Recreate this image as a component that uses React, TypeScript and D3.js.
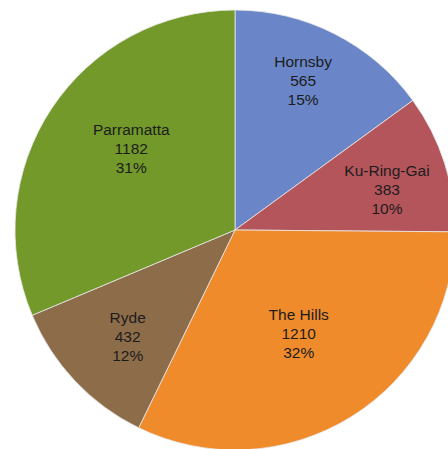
import React from "react";
import * as d3 from "d3";

const categories = ["Hornsby", "Ku-Ring-Gai", "The Hills", "Ryde", "Parramatta"];
const values = [565, 383, 1210, 432, 1182];
const percentLabels = ["15%", "10%", "32%", "12%", "31%"];
const colors = ["#6a86c8", "#b4555b", "#f08b2c", "#8d6c4a", "#72992a"];

// layout
const W = 448;
const H = 449;
const CX = 235;
const CY = 230;
const R = 220;
const labelRadius = [0.75, 0.715, 0.55, 0.685, 0.6];
const angleShift = [-0.045, 0.05, 0.0, -0.02, 0.08];

export default function App() {
  const data = categories.map((c, i) => ({ name: c, value: values[i], pct: percentLabels[i], i }));
  const pie = d3
    .pie<any>()
    .sort(null)
    .value((d: any) => d.value)
    .startAngle(0)
    .endAngle(2 * Math.PI);
  const arcs = pie(data);
  const arc = d3.arc<any>().innerRadius(0).outerRadius(R);
  const lineH = 19;
  return (
    <svg
      width={W}
      height={H}
      style={{ position: "absolute", left: 0, top: 0, background: "#fff" }}
      fontFamily="Liberation Sans, Arial, sans-serif"
    >
      <g transform={`translate(${CX},${CY})`}>
        {arcs.map((a, i) => (
          <path key={i} d={arc(a) as string} fill={colors[i]} stroke="#e8e8e8" strokeWidth={0.8} />
        ))}
        {arcs.map((a, i) => {
          const mid = (a.startAngle + a.endAngle) / 2 + angleShift[i];
          const r = R * labelRadius[i];
          const x = Math.sin(mid) * r;
          const y = -Math.cos(mid) * r;
          return (
            <text key={i} x={x} y={y} textAnchor="middle" fontSize={15.5} fill="#1c1c1c">
              <tspan x={x} dy={-lineH + 6}>{a.data.name}</tspan>
              <tspan x={x} dy={lineH}>{a.data.value}</tspan>
              <tspan x={x} dy={lineH}>{a.data.pct}</tspan>
            </text>
          );
        })}
      </g>
    </svg>
  );
}
